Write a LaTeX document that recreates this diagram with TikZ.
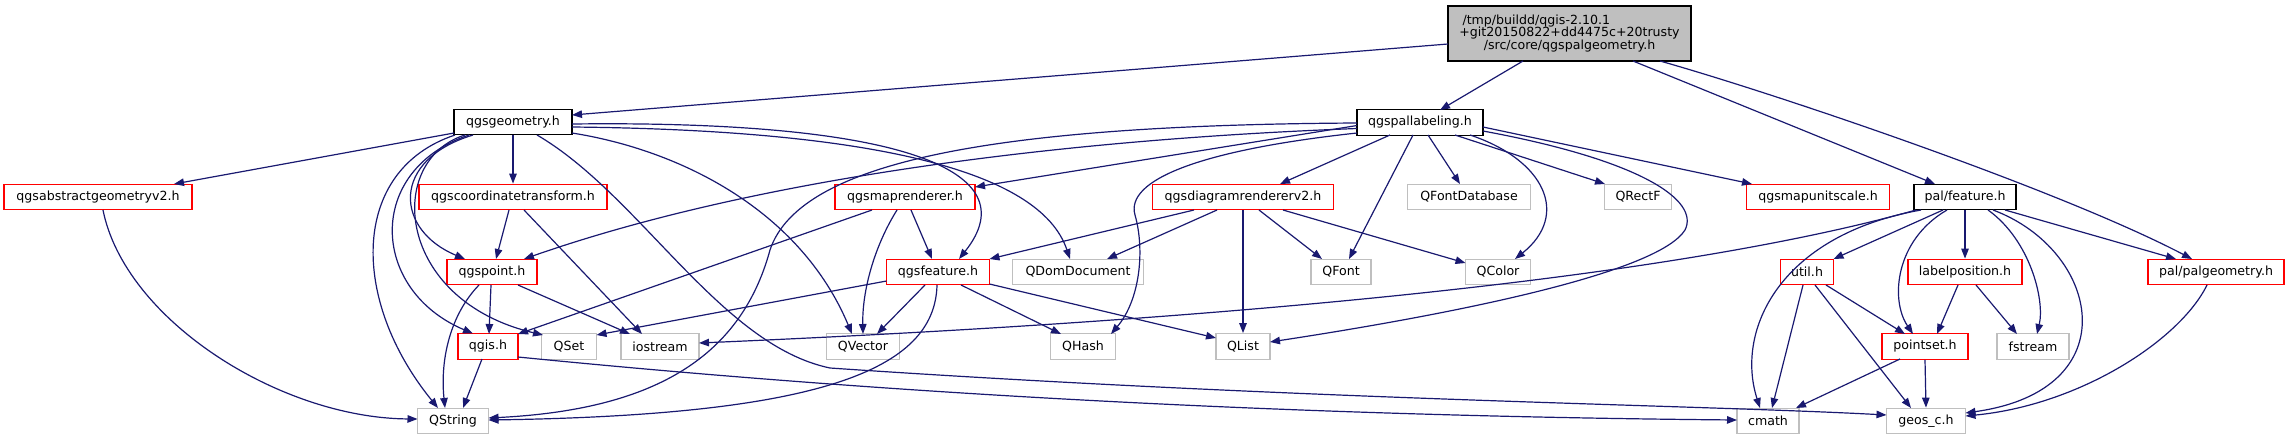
\documentclass[tikz,border=0pt]{standalone}
\usepackage{fontspec}
\setmainfont{DejaVu Sans}
\usetikzlibrary{arrows.meta,calc}
\definecolor{edgecol}{HTML}{191970}
\definecolor{boxgray}{HTML}{BFBFBF}
\definecolor{boxred}{HTML}{FF0000}
\tikzset{
  nb/.style={rectangle, inner sep=0pt, minimum height=25.5pt, fill=white, line width=1.3pt,
             font=\fontsize{12.6}{15}\selectfont},
  bxblack/.style={nb, draw=black},
  bxred/.style={nb, draw=boxred},
  bxgray/.style={nb, draw=boxgray},
  dep/.style={draw=edgecol, line width=1.2pt, -{Triangle[length=10pt,width=7.5pt]}},
}
\begin{document}
\begin{tikzpicture}[x=1pt,y=-1pt]
\useasboundingbox (0,0) rectangle (2289,440);
% top node
\node[draw=black, fill=boxgray, line width=1.3pt, minimum width=243pt, minimum height=55pt,
      inner sep=0pt, align=center, font=\fontsize{12.6}{12.9}\selectfont] (T) at (1569.5,33.5)
  {\makebox[214pt][l]{/tmp/buildd/qgis-2.10.1}\\+git20150822+dd4475c+20trusty\\/src/core/qgspalgeometry.h};
% row B
\node[bxblack, minimum width=118pt] (G) at (513,122) {qgsgeometry.h};
\node[bxblack, minimum width=126pt] (PL) at (1420,122.5) {qgspallabeling.h};
% row C
\node[bxred, minimum width=188pt] (AG) at (98,197) {qgsabstractgeometryv2.h};
\node[bxred, minimum width=188pt] (CT) at (513,197) {qgscoordinatetransform.h};
\node[bxred, minimum width=140pt] (MR) at (905,197) {qgsmaprenderer.h};
\node[bxred, minimum width=181pt] (DR) at (1243,197) {qgsdiagramrendererv2.h};
\node[bxgray, minimum width=123pt] (QFD) at (1469,197) {QFontDatabase};
\node[bxgray, minimum width=67pt] (QR) at (1638,197) {QRectF};
\node[bxred, minimum width=143pt] (MUS) at (1818,197) {qgsmapunitscale.h};
\node[bxblack, minimum width=102pt] (PF) at (1965,197) {pal/feature.h};
% row D
\node[bxred, minimum width=90pt] (P) at (492,272) {qgspoint.h};
\node[bxred, minimum width=103pt] (F) at (938,272) {qgsfeature.h};
\node[bxgray, minimum width=131pt] (QDD) at (1078,272) {QDomDocument};
\node[bxgray, minimum width=60pt] (QF) at (1341,272) {QFont};
\node[bxgray, minimum width=65pt] (QC) at (1498,272) {QColor};
\node[bxred, minimum width=53pt] (U) at (1807,272) {util.h};
\node[bxred, minimum width=114pt] (LP) at (1965,272) {labelposition.h};
\node[bxred, minimum width=136pt] (PG) at (2216,272) {pal/palgeometry.h};
% row E
\node[bxred, minimum width=60pt] (QI) at (488,346.5) {qgis.h};
\node[bxgray, minimum width=55pt] (QSe) at (569,346.5) {QSet};
\node[bxgray, minimum width=78pt] (IO) at (660,346.5) {iostream};
\node[bxgray, minimum width=73pt] (QV) at (863,346.5) {QVector};
\node[bxgray, minimum width=65pt] (QH) at (1083,346.5) {QHash};
\node[bxgray, minimum width=54pt] (QL) at (1243,346.5) {QList};
\node[bxred, minimum width=86pt] (PS) at (1925,346.5) {pointset.h};
\node[bxgray, minimum width=72pt] (FS) at (2033,346.5) {fstream};
% row F
\node[bxgray, minimum width=71pt] (QS) at (453,421) {QString};
\node[bxgray, minimum width=62pt] (CM) at (1768,421) {cmath};
\node[bxgray, minimum width=79pt] (GE) at (1926,421) {geos\_c.h};

% edges from top node
\draw[dep] ($(T)+(-121.5,10.5)$) -- ($(G)+(59,-7)$);
\draw[dep] ($(T)+(-46.5,27.5)$) -- ($(PL)+(20,-12.5)$);
\draw[dep] ($(T)+(63.5,27.5)$) -- ($(PF)+(-30,-13)$);
\draw[dep] ($(T)+(90.5,27.5)$) .. controls (1780,95) and (2060,190) .. ($(PG)+(-24,-13)$);
% qgsgeometry
\draw[dep] ($(G)+(-59,11)$) -- ($(AG)+(76,-13)$);
\draw[dep] (G.south) -- (CT.north);
\draw[dep] ($(G)+(-40,13)$) .. controls (390,160) and (395,230) .. ($(P)+(-27,-13)$);
\draw[dep] ($(G)+(-44,13)$) .. controls (365,170) and (370,290) .. ($(QI)+(-15,-13)$);
\draw[dep] ($(G)+(-58,13)$) .. controls (350,170) and (350,300) .. ($(QS)+(-15,-13)$);
\draw[dep] ($(G)+(-48,13)$) .. controls (385,160) and (395,300) .. ($(QSe)+(-26,-11.5)$);
\draw[dep] ($(G)+(59,11)$) .. controls (680,150) and (800,210) .. ($(QV)+(-11,-12.5)$);
\draw[dep] ($(G)+(24,13)$) .. controls (640,195) and (720,345) .. (830,368)
           .. controls (1300,400) and (1700,405) .. ($(GE)+(-39.5,-6)$);
\draw[dep] ($(G)+(59,5)$) .. controls (870,130) and (1040,170) .. ($(QDD)+(-8,-13)$);
\draw[dep] ($(G)+(59,2)$) .. controls (900,120) and (1030,170) .. ($(F)+(21,-13)$);
% qgscoordinatetransform
\draw[dep] ($(CT)+(-4,13)$) -- ($(P)+(4,-13)$);
\draw[dep] ($(CT)+(11,13)$) -- ($(IO)+(-18,-12.5)$);
% qgspoint
\draw[dep] ($(P)+(-1,13)$) -- ($(QI)+(1,-12.5)$);
\draw[dep] ($(P)+(-13,13)$) .. controls (450,315) and (440,360) .. ($(QS)+(-8,-13)$);
\draw[dep] ($(P)+(26,13)$) -- ($(IO)+(-30,-12.5)$);
% qgis
\draw[dep] ($(QI)+(-6,12.5)$) -- ($(QS)+(10,-13)$);
\draw[dep] ($(QI)+(30,10.5)$) .. controls (800,385) and (1200,415) .. ($(CM)+(-31,-1)$);
% qgsabstractgeometryv2
\draw[dep] ($(AG)+(5,13)$) .. controls (125,320) and (280,418) .. ($(QS)+(-35.5,-2)$);
% qgsmaprenderer
\draw[dep] ($(MR)+(-33,13)$) -- ($(QI)+(30,-12.5)$);
\draw[dep] ($(MR)+(-8,13)$) .. controls (875,245) and (862,290) .. ($(QV)+(0,-12.5)$);
\draw[dep] ($(MR)+(6,13)$) -- ($(F)+(-6,-13)$);
% qgsfeature
\draw[dep] ($(F)+(-51.5,9)$) -- ($(QSe)+(27.5,-11.5)$);
\draw[dep] ($(F)+(-13,13)$) -- ($(QV)+(14,-12.5)$);
\draw[dep] ($(F)+(23,13)$) -- ($(QH)+(-22,-12.5)$);
\draw[dep] ($(F)+(51.5,12)$) -- ($(QL)+(-27,-8.5)$);
\draw[dep] ($(F)+(-1,13)$) .. controls (935,370) and (820,415) .. ($(QS)+(35.5,-1)$);
% qgsdiagramrendererv2
\draw[dep] ($(DR)+(-49,13)$) -- ($(F)+(51.5,-13)$);
\draw[dep] ($(DR)+(-26,13)$) -- ($(QDD)+(29,-13)$);
\draw[dep] (DR.south) -- (QL.north);
\draw[dep] ($(DR)+(16,13)$) -- ($(QF)+(-19,-13)$);
\draw[dep] ($(DR)+(40,13)$) -- ($(QC)+(-32.5,-9)$);
% qgspallabeling
\draw[dep] ($(PL)+(-63,3)$) -- ($(MR)+(70,-10)$);
\draw[dep] ($(PL)+(-63,6)$) .. controls (1050,140) and (750,180) .. ($(P)+(32,-13)$);
\draw[dep] ($(PL)+(-63,0.5)$) .. controls (1000,125) and (800,160) .. (770,250)
           .. controls (740,360) and (650,410) .. ($(QS)+(35.5,-3)$);
\draw[dep] ($(PL)+(-63,10.5)$) .. controls (1200,150) and (1125,180) .. (1135,215)
           .. controls (1145,250) and (1140,300) .. ($(QH)+(28,-12.5)$);
\draw[dep] ($(PL)+(-30,12.5)$) -- ($(DR)+(37,-13)$);
\draw[dep] ($(PL)+(-7,12.5)$) -- ($(QF)+(8,-13)$);
\draw[dep] ($(PL)+(8,12.5)$) -- ($(QFD)+(-9,-13)$);
\draw[dep] ($(PL)+(35,12.5)$) -- ($(QR)+(-33,-13)$);
\draw[dep] ($(PL)+(50,12.5)$) .. controls (1545,160) and (1570,215) .. ($(QC)+(17,-13)$);
\draw[dep] ($(PL)+(63,4.5)$) -- ($(MUS)+(-66,-13)$);
\draw[dep] ($(PL)+(63,8.5)$) .. controls (1640,160) and (1700,200) .. (1685,230)
           .. controls (1660,270) and (1480,310) .. ($(QL)+(27,-4.5)$);
% pal/feature.h
\draw[dep] ($(PF)+(-49,13)$) .. controls (1720,265) and (1350,315) .. ($(IO)+(39,-3.5)$);
\draw[dep] ($(PF)+(-44,13)$) .. controls (1780,235) and (1735,330) .. ($(CM)+(-8,-13)$);
\draw[dep] ($(PF)+(-22,13)$) -- ($(U)+(26.5,-13)$);
\draw[dep] ($(PF)+(-18,13)$) .. controls (1895,240) and (1890,300) .. ($(PS)+(-12,-12.5)$);
\draw[dep] (PF.south) -- (LP.north);
\draw[dep] ($(PF)+(23,13)$) .. controls (2030,240) and (2045,300) .. ($(FS)+(4,-12.5)$);
\draw[dep] ($(PF)+(28,13)$) .. controls (2100,250) and (2130,390) .. ($(GE)+(39.5,-8)$);
\draw[dep] ($(PF)+(40,13)$) -- ($(PG)+(-40,-13)$);
% util.h
\draw[dep] ($(U)+(-4,13)$) -- ($(CM)+(4,-13)$);
\draw[dep] ($(U)+(8,13)$) -- ($(GE)+(-15,-13)$);
\draw[dep] ($(U)+(19,13)$) -- ($(PS)+(-20,-12.5)$);
% labelposition.h
\draw[dep] ($(LP)+(-7,13)$) -- ($(PS)+(12,-12.5)$);
\draw[dep] ($(LP)+(11,13)$) -- ($(FS)+(-16,-12.5)$);
% pointset.h
\draw[dep] ($(PS)+(-25,12.5)$) -- ($(CM)+(28,-13)$);
\draw[dep] (PS.south) -- (GE.north);
% pal/palgeometry.h
\draw[dep] ($(PG)+(-9,13)$) .. controls (2180,340) and (2080,405) .. ($(GE)+(39.5,-5)$);
\end{tikzpicture}
\end{document}
